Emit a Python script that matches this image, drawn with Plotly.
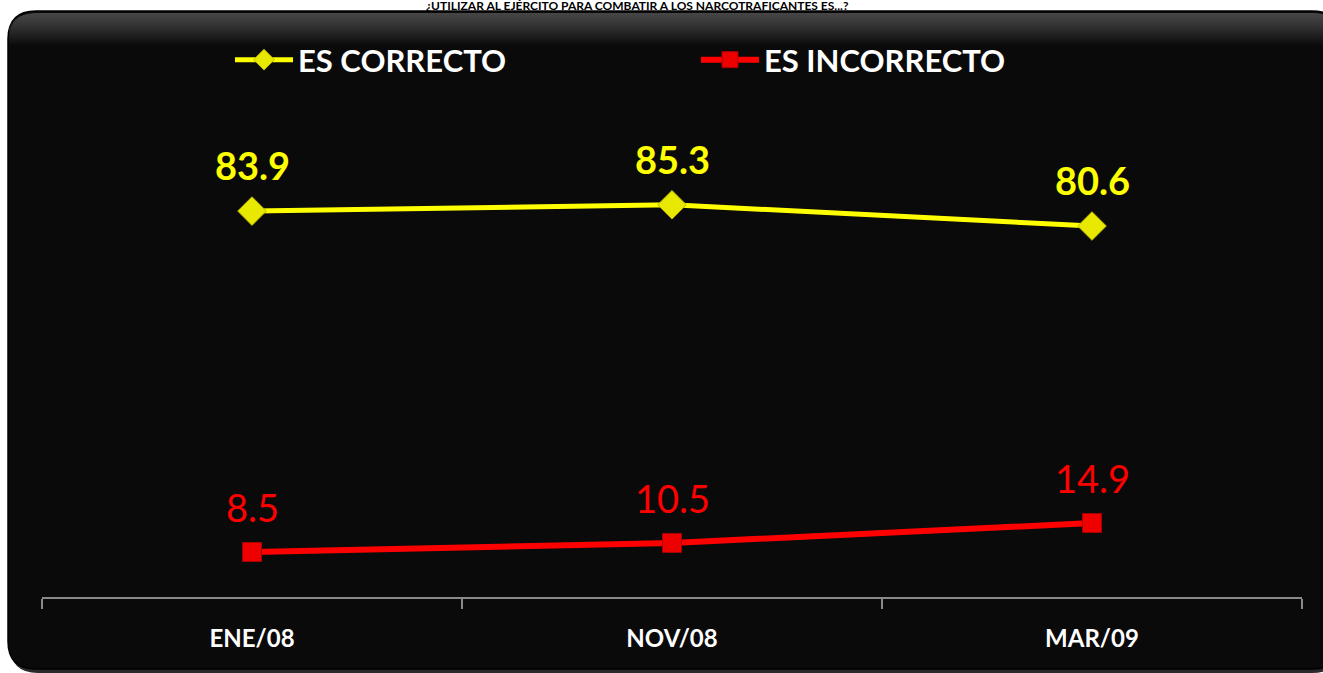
import plotly.graph_objects as go

W, H = 1323, 673

categories = ["ENE/08", "NOV/08", "MAR/09"]
correcto = [83.9, 85.3, 80.6]
incorrecto = [8.5, 10.5, 14.9]
series_names = ["ES CORRECTO", "ES INCORRECTO"]
title_text = "¿UTILIZAR AL EJÉRCITO PARA COMBATIR A LOS NARCOTRAFICANTES ES...?"

FONT = "Lato"


def px_x(v):
    return v / W


def px_y(v):
    return 1 - v / H


def rounded_rect(x0, y0, x1, y1, r, round_bottom=True):
    # pixel coords (top-left origin) -> paper path
    rx, ry = r / W, r / H
    X0, X1 = px_x(x0), px_x(x1)
    Yt, Yb = px_y(y0), px_y(y1)
    p = f"M {X0 + rx},{Yt} L {X1 - rx},{Yt} Q {X1},{Yt} {X1},{Yt - ry} "
    if round_bottom:
        p += f"L {X1},{Yb + ry} Q {X1},{Yb} {X1 - rx},{Yb} L {X0 + rx},{Yb} Q {X0},{Yb} {X0},{Yb + ry} "
    else:
        p += f"L {X1},{Yb} L {X0},{Yb} "
    p += f"L {X0},{Yt - ry} Q {X0},{Yt} {X0 + rx},{Yt} Z"
    return p


shapes = [
    dict(type="path", xref="paper", yref="paper", path=rounded_rect(10, 14, 1340, 673, 28),
         fillcolor="#2a2a2a", line=dict(width=0), layer="below"),
    dict(type="path", xref="paper", yref="paper", path=rounded_rect(8, 11, 1340, 669, 28),
         fillcolor="#0a0a0a", line=dict(color="#000000", width=1.5), layer="below"),
]
# soft grey sheen along the top edge
for h in range(2, 34, 2):
    shapes.append(dict(type="path", xref="paper", yref="paper",
                       path=rounded_rect(9, 13, 1340, 13 + h, 26, round_bottom=False),
                       fillcolor="rgba(255,255,255,0.018)", line=dict(width=0), layer="below"))

fig = go.Figure()
fig.add_trace(go.Scatter(
    x=categories, y=correcto, mode="lines+markers", name=series_names[0],
    line=dict(color="#FFFF00", width=5),
    marker=dict(symbol="diamond", size=22, color="#E8E800", line=dict(color="#B8B800", width=1)),
))
fig.add_trace(go.Scatter(
    x=categories, y=incorrecto, mode="lines+markers", name=series_names[1],
    line=dict(color="#FF0000", width=6),
    marker=dict(symbol="square", size=19, color="#EE0000", line=dict(color="#AA0000", width=1)),
))

annotations = []
for c, v in zip(categories, correcto):
    annotations.append(dict(x=c, y=v, text=f"{v:.1f}", showarrow=False, yshift=46,
                            font=dict(family=FONT, size=38, color="#FFFF00", weight="bold")))
for c, v in zip(categories, incorrecto):
    annotations.append(dict(x=c, y=v, text=f"{v:.1f}", showarrow=False, yshift=45,
                            font=dict(family=FONT, size=38, color="#FF0000")))
annotations.append(dict(xref="paper", yref="paper", x=0.482, y=px_y(5.5), yanchor="middle",
                        text=title_text, showarrow=False,
                        font=dict(family=FONT, size=12, color="#000000", weight="bold")))

fig.update_layout(
    width=W, height=H, autosize=False,
    margin=dict(l=0, r=0, t=0, b=0),
    paper_bgcolor="#FFFFFF",
    plot_bgcolor="rgba(0,0,0,0)",
    shapes=shapes,
    annotations=annotations,
    showlegend=True,
    legend=dict(
        orientation="h", x=px_x(230), y=px_y(60), xanchor="left", yanchor="middle",
        font=dict(family=FONT, size=31, color="#FFFFFF", weight="bold"),
        bgcolor="rgba(0,0,0,0)", itemwidth=58,
        entrywidth=393, entrywidthmode="pixels",
    ),
    xaxis=dict(
        domain=[px_x(42), px_x(1302)], range=[-0.5, 2.5], type="category",
        showgrid=False, zeroline=False,
        showline=True, linecolor="#8a8a8a", linewidth=1.5,
        ticks="outside", ticklen=10, tickcolor="#8a8a8a", tickwidth=1.5,
        tickson="boundaries", ticklabelstandoff=19,
        tickfont=dict(family=FONT, size=24, color="#FFFFFF", weight="bold"),
        fixedrange=True,
    ),
    yaxis=dict(
        domain=[px_y(597), px_y(80)], range=[-1.46, 112.9],
        showgrid=False, zeroline=False, showline=False, showticklabels=False,
        fixedrange=True,
    ),
)

# the page body has a default margin; drop it so the figure sits at the window origin
fig.write_html("out.html", config={"displayModeBar": False},
               post_script="document.body.style.margin='0';document.body.style.overflow='hidden';")
